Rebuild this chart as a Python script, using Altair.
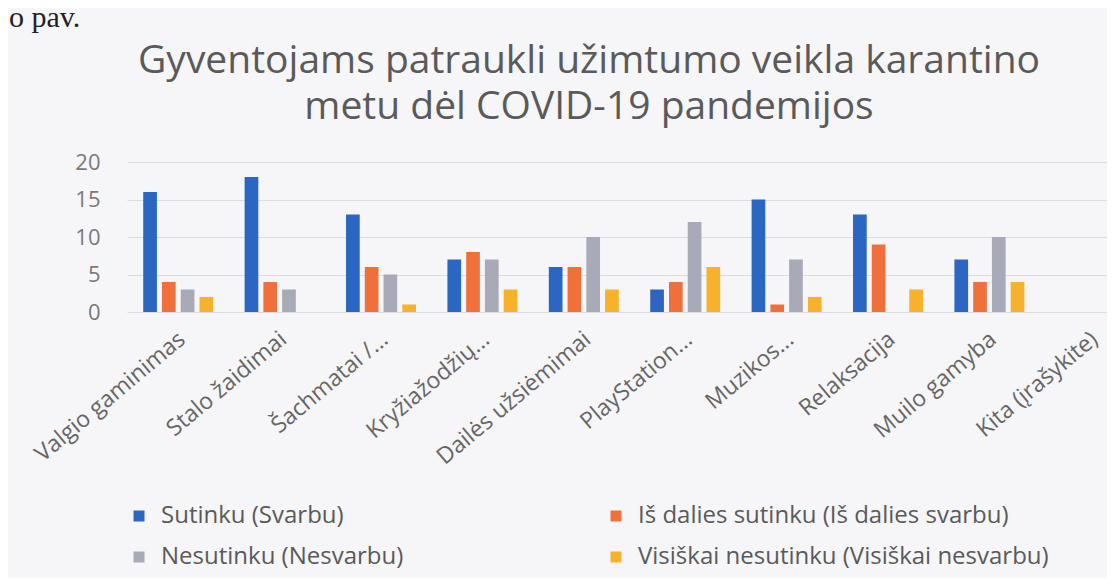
import altair as alt
import pandas as pd

categories = ["Valgio gaminimas", "Stalo žaidimai", "Šachmatai /...", "Kryžiažodžių...",
              "Dailės užsiėmimai", "PlayStation...", "Muzikos...", "Relaksacija",
              "Muilo gamyba", "Kita (įrašykite)"]
series = ["Sutinku (Svarbu)", "Iš dalies sutinku (Iš dalies svarbu)",
          "Nesutinku (Nesvarbu)", "Visiškai nesutinku (Visiškai nesvarbu)"]
sutinku = [16, 18, 13, 7, 6, 3, 15, 13, 7, 0]
is_dalies = [4, 4, 6, 8, 6, 4, 1, 9, 4, 0]
nesutinku = [3, 3, 5, 7, 10, 12, 7, 0, 10, 0]
visiskai = [2, 0, 1, 3, 3, 6, 2, 3, 4, 0]
colors = ["#2a66c2", "#f0703c", "#a9aab7", "#f5b22a"]
title_lines = ["Gyventojams patraukli užimtumo veikla karantino",
               "metu dėl COVID-19 pandemijos"]
note_text = "o pav."

rows = []
for s, vals in zip(series, [sutinku, is_dalies, nesutinku, visiskai]):
    for c, v in zip(categories, vals):
        rows.append({"cat": c, "series": s, "value": v})
df = pd.DataFrame(rows)

# legend is laid out column by column, so order the domain to read row-wise
legend_order = [series[0], series[2], series[1], series[3]]
legend_colors = [colors[0], colors[2], colors[1], colors[3]]

FONT = "Open Sans"

bars = alt.Chart(df).mark_bar().encode(
    x=alt.X("cat:N", sort=categories, title=None,
            scale=alt.Scale(range=[0, 1015], paddingInner=0.31, paddingOuter=0.16),
            axis=alt.Axis(labelAngle=-40, labelAlign="right", labelBaseline="middle",
                          labelPadding=24, labelOffset=4, domain=False, ticks=False,
                          labelFontSize=23, labelColor="#666666", labelFont=FONT,
                          labelLimit=400, labelOverlap=False)),
    xOffset=alt.XOffset("series:N", sort=series,
                        scale=alt.Scale(paddingInner=0.27, paddingOuter=0)),
    y=alt.Y("value:Q", title=None,
            scale=alt.Scale(domain=[0, 20]),
            axis=alt.Axis(values=[0, 5, 10, 15, 20], grid=True, gridColor="#dcdce2",
                          domain=False, ticks=False, labelFontSize=22,
                          labelColor="#7a7a7a", labelFont=FONT, labelPadding=27)),
    color=alt.Color("series:N",
                    scale=alt.Scale(domain=legend_order, range=legend_colors),
                    legend=alt.Legend(orient="none", legendX=0, legendY=342, columns=2,
                                      columnPadding=200, rowPadding=17, title=None,
                                      symbolType="square", symbolSize=121,
                                      symbolStrokeWidth=0, labelFontSize=24,
                                      labelColor="#5a5a5a", labelFont=FONT,
                                      labelLimit=600, labelOffset=10)),
)

t1 = alt.Chart(pd.DataFrame({"t": [title_lines[0]]})).mark_text(
    font=FONT, fontSize=39, align="center", baseline="alphabetic", color="#5a5a5a"
).encode(text="t:N", x=alt.value(462), y=alt.value(-89))

t2 = alt.Chart(pd.DataFrame({"t": [title_lines[1]]})).mark_text(
    font=FONT, fontSize=39, align="center", baseline="alphabetic", color="#5a5a5a"
).encode(text="t:N", x=alt.value(462), y=alt.value(-43))

note = alt.Chart(pd.DataFrame({"t": [note_text]})).mark_text(
    font="Liberation Serif", fontSize=30, align="left", baseline="alphabetic",
    color="#222222"
).encode(text="t:N", x=alt.value(-118), y=alt.value(-135))

chart = alt.layer(bars, t1, t2, note).properties(
    width=980, height=150,
    autosize=alt.AutoSizeParams(type="none"),
    padding={"left": 119, "top": 154, "right": 0, "bottom": 266},
    background="#f6f5f8",
).configure_view(stroke=None)

chart.save("out.html", embed_options={"renderer": "svg", "actions": False})
